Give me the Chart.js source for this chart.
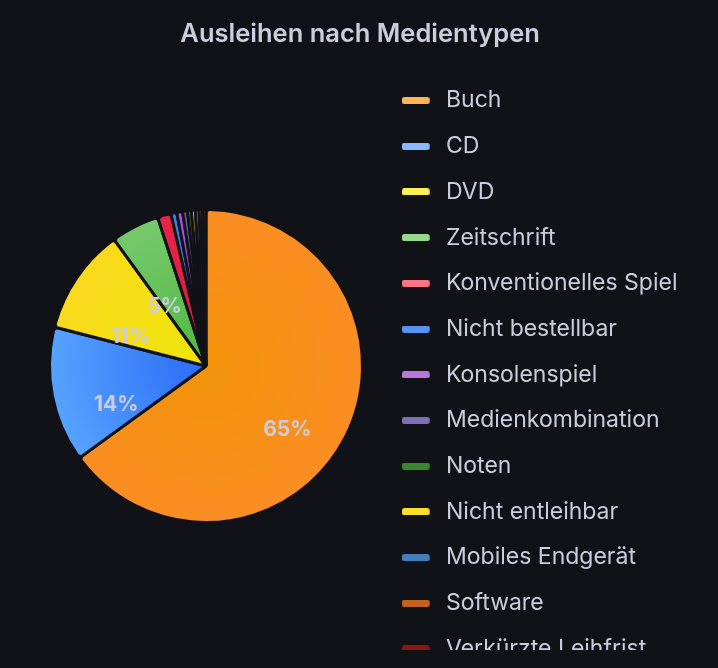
<!DOCTYPE html>
<html>
<head>
<meta charset="utf-8">
<script src="https://cdn.jsdelivr.net/npm/chart.js@4.4.1/dist/chart.umd.min.js"></script>
<style>
  html, body { margin: 0; background: #111217; }
  .panel { width: 718px; height: 650px; overflow: hidden; }
</style>
</head>
<body>
<div class="panel"><canvas id="loans" width="718" height="700"></canvas></div>
<script>
const mediaTypes = [
  "Buch", "CD", "DVD", "Zeitschrift", "Konventionelles Spiel", "Nicht bestellbar",
  "Konsolenspiel", "Medienkombination", "Noten", "Nicht entleihbar",
  "Mobiles Endgerät", "Software", "Verkürzte Leihfrist"
];
const loanShares = [65.0, 14.0, 11.0, 5.0, 1.4, 0.6, 0.6, 0.5, 0.4, 0.4, 0.4, 0.35, 0.35];
const legendColors = [
  "#FFB357", "#8AB8FF", "#FFEE52", "#96D98D", "#FF7383", "#5794F2",
  "#B877D9", "#806EB7", "#37872D", "#FADE2A", "#447EBC", "#C4621C", "#8A1710"
];
const sliceInner = [
  "#F2930A", "#2A6CF6", "#EEE60A", "#50B83E", "#E0173A", "#2A78E6",
  "#9B46D6", "#5E4F9C", "#37872D", "#F2CC0C", "#3F77B8", "#B8560F", "#7A0D02"
];
const sliceOuter = [
  "#FB8D22", "#56A2FF", "#F9D91C", "#76C96D", "#E8244A", "#3A86F0",
  "#A855E0", "#6A5AA8", "#44963A", "#FADE2A", "#4A85C6", "#C8651E", "#8E1408"
];

const BG = "#111217";
const TEXT = "#ccccdc";
const FONT = "Inter";
const legendSize = 23;
const legendGap = 22.7;
const firstItemY = 100.5;
const pieRadius = 156.5;

// little rounded bars for the legend, drawn left aligned
const markers = legendColors.map((c) => {
  const m = document.createElement("canvas");
  m.width = 33;
  m.height = 7;
  const g = m.getContext("2d");
  g.fillStyle = c;
  g.beginPath();
  g.roundRect(0, 0, 28, 7, 2.5);
  g.fill();
  return m;
});

// put the legend column at x=402 whatever the text width is
const probe = document.createElement("canvas").getContext("2d");
probe.font = legendSize + "px " + FONT;
const textW = Math.max(...mediaTypes.map((t) => probe.measureText(t).width));
const padRight = Math.max(0, 262 - textW);
const padLeft = 2 * 206 - (402 - legendGap);

const total = loanShares.reduce((a, b) => a + b, 0);

const gradientFill = (ctx) => {
  const i = ctx.dataIndex;
  const area = ctx.chart.chartArea;
  if (!area) return sliceOuter[i];
  const cx = (area.left + area.right) / 2;
  const cy = (area.top + area.bottom) / 2;
  const g = ctx.chart.ctx.createRadialGradient(cx, cy, 0, cx, cy, pieRadius);
  g.addColorStop(0, sliceInner[i]);
  g.addColorStop(1, sliceOuter[i]);
  return g;
};

const percentLabels = {
  id: "percentLabels",
  afterDatasetsDraw(chart) {
    const c = chart.ctx;
    const meta = chart.getDatasetMeta(0);
    c.save();
    c.font = "bold 21px " + FONT;
    c.fillStyle = TEXT;
    c.textAlign = "center";
    c.textBaseline = "middle";
    meta.data.forEach((arc, i) => {
      const pct = loanShares[i] / total * 100;
      if (pct < 4) return;
      const p = arc.getProps(["x", "y", "startAngle", "endAngle", "outerRadius"], true);
      const mid = (p.startAngle + p.endAngle) / 2;
      const r = p.outerRadius * 7 / 12;
      c.fillText(Math.round(pct) + "%", p.x + Math.cos(mid) * r, p.y + Math.sin(mid) * r + 22);
    });
    c.restore();
  }
};

new Chart(document.getElementById("loans"), {
  type: "pie",
  data: {
    labels: mediaTypes,
    datasets: [{
      data: loanShares,
      backgroundColor: gradientFill,
      borderColor: BG,
      borderWidth: 3,
      borderRadius: 4,
      radius: pieRadius
    }]
  },
  options: {
    responsive: false,
    animation: false,
    events: [],
    layout: { padding: { top: 0, left: padLeft, right: padRight, bottom: 15 } },
    plugins: {
      title: {
        display: true,
        text: "Ausleihen nach Medientypen",
        color: TEXT,
        font: { family: FONT, size: 25.5, weight: "600", lineHeight: 1.0 },
        padding: { top: 21.5, bottom: 0 }
      },
      legend: {
        position: "right",
        align: "start",
        // empty legend title only pushes the first item down
        title: {
          display: true,
          text: " ",
          font: { size: 10, lineHeight: 1.0 },
          padding: { top: firstItemY - legendSize / 2 - legendGap - 10, bottom: 0 }
        },
        labels: {
          usePointStyle: true,
          pointStyleWidth: 32.5,
          boxHeight: 7,
          padding: legendGap,
          color: TEXT,
          font: { family: FONT, size: legendSize },
          generateLabels: () => mediaTypes.map((t, i) => ({
            text: t,
            fillStyle: legendColors[i],
            strokeStyle: legendColors[i],
            fontColor: TEXT,
            lineWidth: 0,
            pointStyle: markers[i],
            hidden: false,
            index: i
          }))
        }
      },
      tooltip: { enabled: false }
    }
  },
  plugins: [percentLabels]
});
</script>
</body>
</html>
